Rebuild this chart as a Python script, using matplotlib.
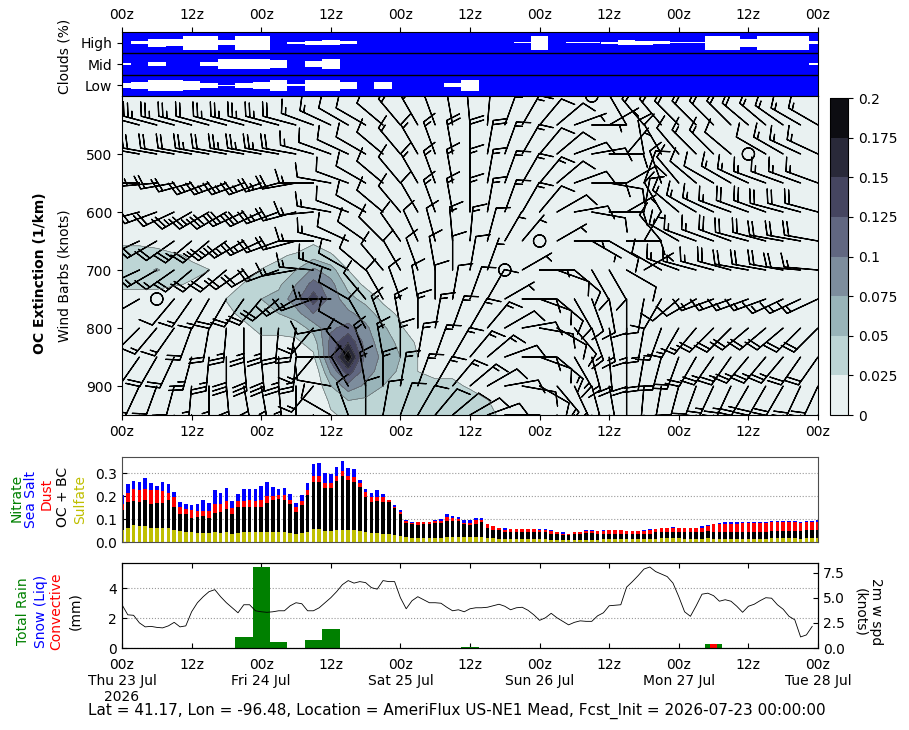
import numpy as np
import matplotlib
matplotlib.use("Agg")
import matplotlib.pyplot as plt

# ------------------------------------------------------------------ data
fcst_hours = np.arange(0, 121, 3)          # 3-hourly columns (hours since init)
aer_hours = np.arange(0, 121)              # hourly aerosol columns
wind_hours = np.arange(0, 120)             # hourly 2m wind
day_names = ['Thu 23 Jul', 'Fri 24 Jul', 'Sat 25 Jul', 'Sun 26 Jul',
             'Mon 27 Jul', 'Tue 28 Jul']

# cloud fraction (0-1) every 3 h
cld_high = [0, 0.2, 0.55, 0.5, 1, 1, 0.35, 1, 1, 0, 0.15, 0.3, 0.4, 0.2, 0, 0,
            0, 0, 0, 0, 0, 0, 0, 0.07, 1, 0, 0.08, 0.1, 0.15, 0.4, 0.27, 0.2,
            0.07, 0.07, 1, 1, 0.57, 1, 1, 1, 0.2]
cld_mid = [0.2, 0, 0.25, 0, 0, 0.25, 0.75, 0.75, 0.75, 0.6, 0, 0.4, 0.75, 0,
           0, 0, 0, 0, 0, 0, 0, 0, 0, 0, 0, 0, 0, 0, 0, 0, 0, 0, 0, 0, 0, 0,
           0, 0, 0, 0, 0.15]
cld_low = [0.35, 0.45, 0.75, 0.75, 0.65, 0.35, 0.07, 0.35, 0.5, 0.75, 0.15,
           0.75, 0.75, 0.45, 0, 0.45, 0, 0, 0, 0.3, 0.75, 0, 0, 0, 0, 0, 0,
           0, 0, 0, 0, 0, 0, 0, 0, 0, 0, 0, 0, 0, 0]

# OC extinction (1/km), non-zero points: hour -> {pressure: value}
ext_levels = np.arange(400, 951, 25)
oc_ext = {
    0: {650: .02, 675: .035, 700: .04, 725: .03, 750: .015},
    3: {650: .02, 675: .035, 700: .04, 725: .03, 750: .015},
    6: {650: .015, 675: .035, 700: .052, 725: .03, 750: .015},
    9: {675: .03, 700: .04, 725: .028},
    12: {675: .02, 700: .032, 725: .022},
    15: {700: .026},
    18: {750: .026, 775: .02},
    21: {725: .028, 750: .035, 775: .03, 800: .02},
    24: {700: .027, 725: .04, 750: .05, 775: .045, 800: .03, 825: .02},
    27: {675: .02, 700: .035, 725: .045, 750: .058, 775: .05, 800: .03,
         825: .02},
    30: {675: .03, 700: .05, 725: .075, 750: .09, 775: .065, 800: .035,
         825: .02},
    33: {650: .02, 675: .04, 700: .08, 725: .11, 750: .14, 775: .1, 800: .06,
         825: .035, 850: .02},
    36: {675: .03, 700: .06, 725: .085, 750: .09, 775: .095, 800: .095,
         825: .11, 850: .11, 875: .08, 900: .05, 925: .03, 950: .022},
    39: {700: .025, 725: .04, 750: .06, 775: .08, 800: .11, 825: .15,
         850: .198, 875: .14, 900: .09, 925: .05, 950: .03},
    42: {725: .02, 750: .04, 775: .065, 800: .08, 825: .09, 850: .09,
         875: .085, 900: .07, 925: .045, 950: .035},
    45: {750: .02, 775: .035, 800: .055, 825: .06, 850: .07, 875: .065,
         900: .05, 925: .04, 950: .035},
    48: {775: .02, 800: .03, 825: .045, 850: .05, 875: .045, 900: .035,
         925: .035, 950: .035},
    51: {825: .02, 850: .025, 875: .025, 900: .028, 925: .038, 950: .04},
    54: {875: .02, 900: .03, 925: .04, 950: .045},
    57: {875: .02, 900: .03, 925: .04, 950: .04},
    60: {900: .022, 925: .035, 950: .035},
    63: {925: .027, 950: .03},
    66: {950: .02},
}

# wind barbs: direction (deg, from) and speed (knots), 3-hourly
barb_levels = [400, 450, 500, 550, 600, 650, 700, 750, 800, 850, 900, 950]
wdir = [
    [290, 290, 290, 290, 290, 290, 290, 290, 290, 290, 290, 300, 300, 300, 310,
     320, 330, 340, 350, 350, 0, 10, 20, 30, 30, 40, 60, 0, 300, 310, 320, 320,
     320, 320, 320, 320, 310, 310, 310, 300, 300],
    [285, 285, 285, 285, 285, 285, 285, 285, 285, 285, 285, 290, 295, 300, 300,
     310, 320, 330, 340, 350, 355, 5, 20, 30, 40, 50, 70, 90, 60, 330, 320,
     320, 315, 315, 315, 315, 310, 310, 305, 300, 300],
    [280, 280, 280, 280, 280, 280, 280, 280, 280, 280, 280, 285, 290, 295, 300,
     310, 320, 330, 340, 350, 0, 10, 20, 30, 40, 50, 70, 80, 90, 40, 350, 330,
     320, 315, 315, 310, 0, 300, 300, 295, 295],
    [275, 270, 265, 260, 255, 250, 250, 250, 250, 255, 260, 270, 280, 290, 300,
     310, 320, 330, 340, 350, 0, 10, 20, 30, 40, 50, 70, 90, 100, 60, 20, 340,
     320, 310, 300, 300, 295, 290, 290, 290, 290],
    [260, 255, 250, 245, 240, 240, 240, 245, 245, 250, 255, 265, 280, 290, 300,
     310, 320, 330, 340, 350, 0, 10, 20, 30, 40, 60, 80, 100, 90, 60, 10, 330,
     310, 300, 295, 290, 290, 290, 285, 285, 285],
    [250, 245, 240, 235, 230, 230, 235, 240, 245, 250, 255, 270, 285, 295, 305,
     315, 325, 335, 345, 355, 5, 15, 30, 40, 0, 60, 90, 120, 120, 90, 30, 320,
     300, 290, 290, 290, 285, 285, 280, 280, 280],
    [250, 245, 240, 235, 230, 230, 230, 235, 240, 250, 260, 275, 290, 300, 310,
     320, 330, 340, 350, 0, 10, 20, 0, 60, 90, 110, 130, 150, 150, 120, 60,
     300, 290, 285, 285, 285, 280, 280, 280, 275, 275],
    [250, 240, 0, 220, 215, 210, 210, 215, 220, 230, 240, 250, 270, 300, 320,
     330, 340, 350, 0, 10, 20, 30, 60, 90, 110, 130, 150, 160, 170, 180, 190,
     210, 230, 240, 250, 250, 250, 250, 245, 245, 245],
    [230, 225, 220, 215, 200, 190, 185, 180, 180, 185, 190, 220, 260, 300, 330,
     340, 350, 0, 10, 20, 30, 40, 60, 80, 100, 120, 140, 160, 170, 180, 190,
     200, 210, 220, 225, 225, 230, 230, 230, 225, 225],
    [220, 215, 210, 205, 195, 185, 180, 175, 175, 180, 185, 220, 270, 320, 340,
     350, 0, 10, 20, 30, 40, 50, 70, 90, 110, 130, 150, 165, 175, 180, 190,
     195, 200, 210, 215, 215, 220, 220, 220, 215, 215],
    [210, 205, 200, 195, 185, 180, 175, 170, 170, 175, 180, 220, 280, 330, 350,
     0, 10, 20, 30, 40, 50, 60, 80, 100, 120, 140, 155, 165, 170, 180, 185,
     190, 195, 200, 205, 205, 210, 210, 210, 205, 205],
    [200, 195, 190, 185, 180, 175, 170, 165, 165, 170, 175, 220, 300, 340, 0,
     10, 20, 30, 40, 50, 60, 70, 90, 110, 130, 145, 160, 170, 175, 180, 185,
     190, 195, 195, 200, 200, 200, 200, 200, 200, 200],
]
wspd = [
    [25, 25, 30, 30, 25, 25, 25, 30, 30, 25, 20, 20, 15, 15, 15, 15, 15, 15, 15,
     15, 15, 15, 15, 10, 10, 5, 5, 0, 10, 15, 20, 20, 20, 20, 20, 20, 15, 15,
     15, 15, 15],
    [20, 20, 25, 25, 25, 20, 25, 25, 25, 25, 20, 15, 15, 10, 10, 10, 15, 15, 15,
     20, 20, 20, 15, 15, 10, 10, 5, 5, 5, 10, 15, 15, 20, 20, 20, 20, 20, 15,
     15, 15, 15],
    [15, 20, 20, 20, 20, 25, 20, 25, 25, 25, 20, 15, 10, 10, 10, 10, 15, 15, 15,
     20, 20, 20, 15, 15, 10, 10, 10, 10, 10, 5, 10, 10, 10, 15, 15, 10, 0, 10,
     15, 15, 15],
    [15, 15, 15, 20, 20, 25, 25, 25, 25, 25, 20, 15, 10, 10, 10, 10, 10, 15, 15,
     15, 15, 15, 15, 15, 15, 10, 10, 10, 10, 10, 10, 10, 10, 10, 10, 15, 15, 15,
     15, 15, 15],
    [15, 15, 20, 20, 25, 25, 30, 30, 30, 25, 20, 15, 15, 10, 10, 10, 10, 10, 15,
     15, 15, 15, 15, 15, 10, 10, 10, 10, 10, 5, 10, 10, 15, 15, 15, 15, 20, 20,
     20, 20, 20],
    [15, 15, 20, 20, 25, 25, 25, 25, 25, 20, 20, 15, 15, 10, 10, 10, 10, 10, 10,
     15, 15, 10, 5, 5, 0, 5, 5, 5, 10, 10, 5, 10, 15, 15, 15, 20, 20, 20, 20,
     20, 20],
    [10, 10, 15, 15, 20, 20, 20, 20, 20, 20, 15, 15, 15, 10, 10, 10, 10, 10, 10,
     10, 10, 5, 0, 5, 5, 10, 10, 10, 10, 10, 5, 10, 15, 15, 15, 20, 20, 20, 20,
     20, 15],
    [10, 5, 0, 10, 15, 15, 20, 20, 20, 20, 15, 15, 15, 10, 10, 10, 10, 10, 10,
     10, 10, 10, 5, 10, 10, 10, 10, 10, 10, 10, 10, 10, 10, 10, 15, 15, 15, 15,
     15, 15, 15],
    [15, 15, 15, 15, 20, 20, 25, 25, 25, 20, 20, 15, 10, 10, 10, 15, 15, 15, 15,
     15, 15, 15, 10, 10, 10, 10, 10, 15, 15, 15, 15, 15, 15, 15, 20, 20, 20, 20,
     20, 20, 20],
    [20, 20, 20, 20, 25, 25, 30, 30, 30, 25, 25, 15, 10, 10, 15, 15, 15, 15, 15,
     15, 15, 15, 10, 10, 10, 15, 15, 15, 20, 20, 20, 20, 20, 20, 25, 25, 25, 25,
     25, 20, 20],
    [20, 20, 20, 20, 25, 25, 30, 30, 25, 25, 20, 15, 10, 10, 15, 15, 15, 15, 15,
     15, 15, 10, 10, 10, 10, 15, 15, 15, 20, 20, 20, 20, 20, 20, 25, 25, 25, 20,
     20, 20, 20],
    [15, 15, 15, 15, 20, 20, 20, 20, 20, 20, 15, 10, 10, 10, 10, 10, 10, 10, 10,
     10, 10, 10, 10, 10, 10, 10, 10, 15, 15, 15, 15, 15, 15, 15, 20, 20, 20, 15,
     15, 15, 15],
]

# aerosol optical depth components, hourly
sulfate = [.054, .063, .073, .069, .069, .061, .060, .063, .063, .054, .048,
           .045, .044, .041, .041, .040, .042, .041, .042, .037, .040, .044,
           .044, .044, .044, .044, .044, .042, .042, .040, .037, .040, .044,
           .057, .059, .048, .048, .051, .054, .054, .054, .048, .044, .040,
           .040, .037, .034, .031, .026, .022, .018, .018, .018, .018, .018,
           .018, .020, .020, .020, .020, .020, .020, .020, .016, .016, .012,
           .012, .012, .012, .012, .012, .012, .012, .012, .007, .007, .007,
           .007, .007, .007, .007, .007, .007, .012, .012, .012, .012, .012,
           .012, .012, .012, .012, .012, .016, .016, .016, .016, .012, .012,
           .012, .012, .016, .012, .012, .012, .012, .012, .012, .012, .012,
           .012, .012, .016, .016, .016, .016, .016, .012, .016, .016, .016]
oc_bc = [.088, .113, .106, .107, .114, .104, .111, .108, .120, .100, .074,
         .077, .063, .069, .072, .067, .085, .091, .104, .085, .111, .110,
         .110, .107, .110, .127, .139, .144, .141, .125, .095, .120, .161,
         .207, .205, .189, .189, .215, .236, .217, .207, .194, .154, .136,
         .139, .139, .139, .117, .096, .061, .060, .058, .060, .060, .063,
         .065, .072, .071, .071, .058, .053, .060, .066, .047, .038, .039,
         .030, .030, .030, .030, .030, .030, .030, .030, .030, .027, .022,
         .022, .027, .027, .033, .033, .027, .025, .025, .025, .025, .022,
         .022, .022, .022, .025, .030, .028, .028, .028, .028, .030, .030,
         .030, .030, .031, .030, .030, .030, .030, .030, .030, .030, .030,
         .030, .030, .031, .031, .031, .031, .031, .035, .035, .035, .035]
dust = [.026, .039, .051, .051, .051, .062, .056, .053, .032, .041, .032,
        .024, .032, .025, .023, .028, .041, .036, .033, .027, .029, .026,
        .029, .029, .029, .029, .017, .019, .022, .018, .022, .019, .022,
        .024, .024, .022, .022, .022, .020, .017, .022, .017, .019, .019,
        .019, .019, .010, .006, .010, .009, .005, .010, .010, .010, .010,
        .009, .018, .012, .010, .005, .012, .015, .012, .015, .015, .012,
        .012, .014, .014, .014, .014, .014, .009, .009, .010, .008, .008,
        .008, .008, .008, .007, .007, .013, .010, .014, .014, .014, .013,
        .013, .013, .013, .014, .014, .016, .019, .019, .019, .021, .021,
        .021, .021, .022, .036, .036, .037, .037, .037, .039, .039, .039,
        .039, .039, .039, .039, .039, .039, .039, .034, .035, .035, .035]
sea_salt = [.037, .041, .035, .035, .044, .032, .018, .038, .041, .023, .022,
            .022, .022, .030, .047, .036, .059, .047, .058, .030, .032, .051,
            .051, .050, .062, .062, .039, .025, .032, .026, .017, .026, .032,
            .052, .059, .041, .037, .041, .044, .037, .035, .012, .013, .020,
            .029, .014, 0, .006, .007, .006, .005, 0, 0, 0, .004, .008, .014,
            .010, .009, .012, .010, .009, .006, 0, 0, 0, .006, 0, 0, 0, 0, 0,
            .005, .005, .004, 0, .005, 0, 0, 0, .004, .004, 0, .004, 0, 0,
            .003, 0, 0, 0, .004, .005, .003, .003, 0, .002, 0, 0, 0, 0, .006,
            .004, .002, .005, .007, .007, .007, .005, .005, .005, .005, .005,
            .005, .005, .005, .005, .005, .005, .005, .005, .009]

# precipitation (mm, 3-hourly totals) and 2m wind (knots)
rain_hours = [21, 24, 27, 33, 36, 60, 102]
rain_total = [0.73, 5.4, 0.42, 0.55, 1.29, 0.08, 0.27]
conv_hours = [102]
conv_rain = [0.27]
wind2m = [4.3, 3.3, 3.25, 2.5, 2.1, 2.15, 2.05, 2.0, 2.2, 2.55,
          2.1, 2.2, 3.6, 4.5, 5.1, 5.6, 5.8, 5.1, 4.5, 4.0,
          3.5, 4.3, 4.3, 3.7, 3.6, 3.55, 3.6, 3.7, 3.7, 4.2,
          4.5, 4.4, 3.7, 3.7, 4.0, 4.5, 5.0, 5.6, 6.3, 6.7,
          6.45, 6.6, 6.5, 6.0, 5.85, 6.7, 6.6, 6.6, 5.0, 3.9,
          4.7, 5.1, 4.8, 4.5, 4.5, 4.45, 4.05, 3.7, 3.8, 3.6,
          3.9, 4.0, 4.0, 4.05, 4.2, 4.35, 4.15, 3.8, 4.0, 4.05,
          3.75, 3.3, 2.75, 3.0, 3.45, 3.0, 2.65, 2.3, 2.55, 2.7,
          2.65, 2.65, 3.2, 3.5, 4.2, 4.25, 4.3, 6.05, 6.6, 7.2,
          7.85, 8.05, 7.6, 7.35, 7.1, 6.45, 5.1, 3.6, 3.15, 4.2,
          5.35, 5.45, 5.2, 4.65, 4.8, 4.65, 4.15, 3.55, 4.15, 4.35,
          4.7, 5.0, 4.95, 4.3, 3.85, 3.15, 2.8, 1.1, 1.3, 2.15]

# ------------------------------------------------------------------ figure
W, H = 909, 730
fig = plt.figure(figsize=(W / 100, H / 100), dpi=100)


def add_ax(x0, y0, x1, y1):
    # pixel box -> figure fraction
    return fig.add_axes([x0 / W, 1 - y1 / H, (x1 - x0) / W, (y1 - y0) / H])


ax_c = add_ax(122, 32, 818, 96)
ax_m = add_ax(122, 96, 818, 415)
cax = add_ax(830, 98, 848, 415)
ax_a = add_ax(122, 457, 818, 542)
ax_p = add_ax(122, 563, 818, 648)

xt = np.arange(0, 121, 12)
zlab = ['00z' if t % 24 == 0 else '12z' for t in xt]

# ---- clouds
ax_c.set_facecolor('#0000ff')
for frac, yc in ((cld_low, 0.5), (cld_mid, 1.5), (cld_high, 2.5)):
    f = np.array(frac)
    ax_c.bar(fcst_hours, f * 0.66, width=3, bottom=yc - f * 0.33,
             color='white', linewidth=0)
ax_c.axhline(1, color='k', lw=1)
ax_c.axhline(2, color='k', lw=1)
ax_c.set_xlim(0, 120)
ax_c.set_ylim(0, 3)
ax_c.set_yticks([0.5, 1.5, 2.5])
ax_c.set_yticklabels(['Low', 'Mid', 'High'])
ax_c.xaxis.tick_top()
ax_c.set_xticks(xt)
ax_c.set_xticklabels(zlab)

# ---- extinction + barbs
Z = np.zeros((len(ext_levels), len(fcst_hours)))
for hr, col in oc_ext.items():
    j = int(np.where(fcst_hours == hr)[0][0])
    for p, val in col.items():
        i = int(np.where(ext_levels == p)[0][0])
        Z[i, j] = val
clev = np.arange(0, 0.2001, 0.025)
cf = ax_m.contourf(fcst_hours, ext_levels, Z, levels=clev, cmap='bone_r')
ax_m.contour(fcst_hours, ext_levels, Z, levels=clev[1:], colors='0.35',
             linewidths=0.4)

d = np.deg2rad(np.array(wdir, dtype=float))
s = np.array(wspd, dtype=float)
U = -s * np.sin(d)
V = -s * np.cos(d)
HH, PP = np.meshgrid(fcst_hours, barb_levels)
ax_m.barbs(HH, PP, U, V, length=7, linewidth=0.9, color='k',
           sizes=dict(emptybarb=0.18))
ax_m.set_xlim(0, 120)
ax_m.set_ylim(950, 400)
ax_m.set_yticks([500, 600, 700, 800, 900])
ax_m.set_xticks(xt)
ax_m.set_xticklabels(zlab)

cb = fig.colorbar(cf, cax=cax, ticks=clev)
cb.ax.set_yticklabels(['0', '0.025', '0.05', '0.075', '0.1', '0.125',
                       '0.15', '0.175', '0.2'])

# ---- aerosols
bottom = np.zeros(len(aer_hours))
for vals, colr in ((sulfate, '#bfbf00'), (oc_bc, 'k'), (dust, 'r'),
                   (sea_salt, 'b')):
    v = np.array(vals)
    ax_a.bar(aer_hours, v, width=0.65, bottom=bottom, color=colr, linewidth=0)
    bottom = bottom + v
ax_a.set_xlim(0, 120)
ax_a.set_ylim(0, 0.372)
ax_a.set_yticks([0.0, 0.1, 0.2, 0.3])
ax_a.set_xticks([])
ax_a.tick_params(axis='y', direction='in')
ax_a.grid(axis='y', linestyle=':', color='0.6', lw=0.8)
ax_a.set_axisbelow(True)
for sp in ax_a.spines.values():
    sp.set_color('0.3')

# ---- precipitation and 2m wind
ax_p.bar(rain_hours, rain_total, width=3, color='g', linewidth=0)
ax_p.bar(conv_hours, conv_rain, width=1.2, color='r', linewidth=0)
ax_p.set_xlim(0, 120)
ax_p.set_ylim(0, 5.67)
ax_p.set_yticks([0, 2, 4])
ax_p.grid(axis='y', linestyle=':', color='0.6', lw=0.8)
ax_p.set_axisbelow(True)
plab = []
for t in xt:
    if t % 24 == 0:
        lab = '00z\n' + day_names[t // 24]
        if t == 0:
            lab += '\n2026'
    else:
        lab = '12z'
    plab.append(lab)
ax_p.set_xticks(xt)
ax_p.set_xticklabels(plab)
ax_p.tick_params(direction='in', top=True)
ax_p.tick_params(axis='x', pad=7)

ax_w = ax_p.twinx()
ax_w.plot(wind_hours, wind2m, color='k', lw=0.6)
ax_w.set_ylim(0, 8.45)
ax_w.set_yticks([0, 2.5, 5, 7.5])
ax_w.set_yticklabels(['0.0', '2.5', '5.0', '7.5'])
ax_w.tick_params(direction='in')
ax_w.set_xlim(0, 120)

# ---- labels


def ftext(x, y, s, **kw):
    fig.text(x / W, 1 - y / H, s, ha='center', va='center', **kw)


ftext(64, 56, 'Clouds (%)', rotation=90)
ftext(40, 273, 'OC Extinction (1/km)', rotation=90, fontweight='bold')
ftext(64, 276, 'Wind Barbs (knots)', rotation=90)

for xx, yy, txt, colr in ((17, 498, 'Nitrate', 'g'), (31, 499, 'Sea Salt', 'b'),
                          (47, 494, 'Dust', 'r'), (63, 497, 'OC + BC', 'k'),
                          (80, 500, 'Sulfate', '#bfbf00')):
    ftext(xx, yy, txt, rotation=90, color=colr)

for xx, txt, colr in ((23, 'Total Rain', 'g'), (41, 'Snow (Liq)', 'b'),
                      (56, 'Convective', 'r'), (75, '(mm)', 'k')):
    ftext(xx, 611, txt, rotation=90, color=colr)

ftext(868, 612, '2m w spd\n(knots)', rotation=270)
ftext(457, 711, 'Lat = 41.17, Lon = -96.48, Location = AmeriFlux US-NE1 Mead, '
      'Fcst_Init = 2026-07-23 00:00:00', fontsize=11)

fig.savefig('out.png', dpi=100)
